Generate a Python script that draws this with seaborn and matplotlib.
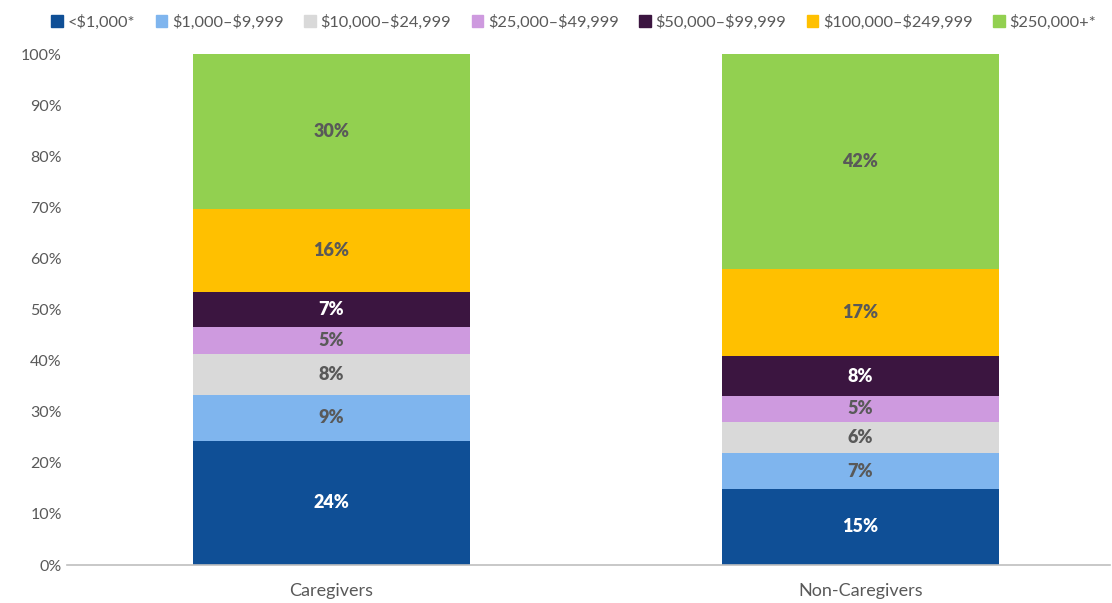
import numpy as np
import pandas as pd
import seaborn as sns
import matplotlib.pyplot as plt
from matplotlib.patches import Patch

groups = ["Caregivers", "Non-Caregivers"]
brackets = ["<$1,000*", "$1,000–$9,999", "$10,000–$24,999", "$25,000–$49,999",
            "$50,000–$99,999", "$100,000–$249,999", "$250,000+*"]
caregivers = [24.3, 9.0, 8.0, 5.3, 6.8, 16.3, 30.3]
non_caregivers = [14.9, 7.0, 6.1, 5.1, 7.8, 17.0, 42.1]
colors = ["#0F4F96", "#7FB5EE", "#D9D9D9", "#CE9ADF", "#3B1540", "#FFC000", "#92D050"]
label_colors = ["white", "#595959", "#595959", "#595959", "white", "#595959", "#595959"]

sns.set_style("white")
plt.rcParams["font.family"] = ["Lato", "DejaVu Sans"]
plt.rcParams["text.parse_math"] = False

df = pd.DataFrame({"group": np.repeat(groups, len(brackets)),
                   "bracket": brackets * 2,
                   "pct": caregivers + non_caregivers})

fig = plt.figure(figsize=(11.12, 6.03), dpi=100)
ax = fig.add_axes([0.060, 0.063, 0.938, 0.847])

bottom = np.zeros(len(groups))
for i, b in enumerate(brackets):
    sub = df[df["bracket"] == b].set_index("group").loc[groups].reset_index()
    sns.barplot(data=sub, x="group", y="pct", color=colors[i], width=0.524,
                bottom=bottom, ax=ax, saturation=1, errorbar=None, linewidth=0)
    for j, v in enumerate(sub["pct"]):
        ax.text(j, bottom[j] + v / 2, f"{v:.0f}%", ha="center", va="center",
                fontsize=13, fontweight="heavy", color=label_colors[i])
    bottom = bottom + sub["pct"].values

ax.set_ylim(0, 100)
ax.set_xlim(-0.5, 1.4716)
ax.set_yticks(range(0, 101, 10))
ax.set_yticklabels([f"{t}%" for t in range(0, 101, 10)])
ax.set_xlabel("")
ax.set_ylabel("")
ax.tick_params(axis="both", length=0, colors="#595959", labelsize=11.5)
ax.tick_params(axis="x", labelsize=13, pad=13)
for s in ["top", "right", "left"]:
    ax.spines[s].set_visible(False)
ax.spines["bottom"].set_color("#BFBFBF")
ax.spines["bottom"].set_linewidth(1.2)

handles = [Patch(color=c) for c in colors]
fig.legend(handles, brackets, loc="upper center", bbox_to_anchor=(0.516, 1.0),
           ncol=7, frameon=False, fontsize=11.8, handlelength=0.7, handleheight=0.7,
           handletextpad=0.3, columnspacing=1.25, labelcolor="#595959")

fig.savefig("out.png", dpi=100)
